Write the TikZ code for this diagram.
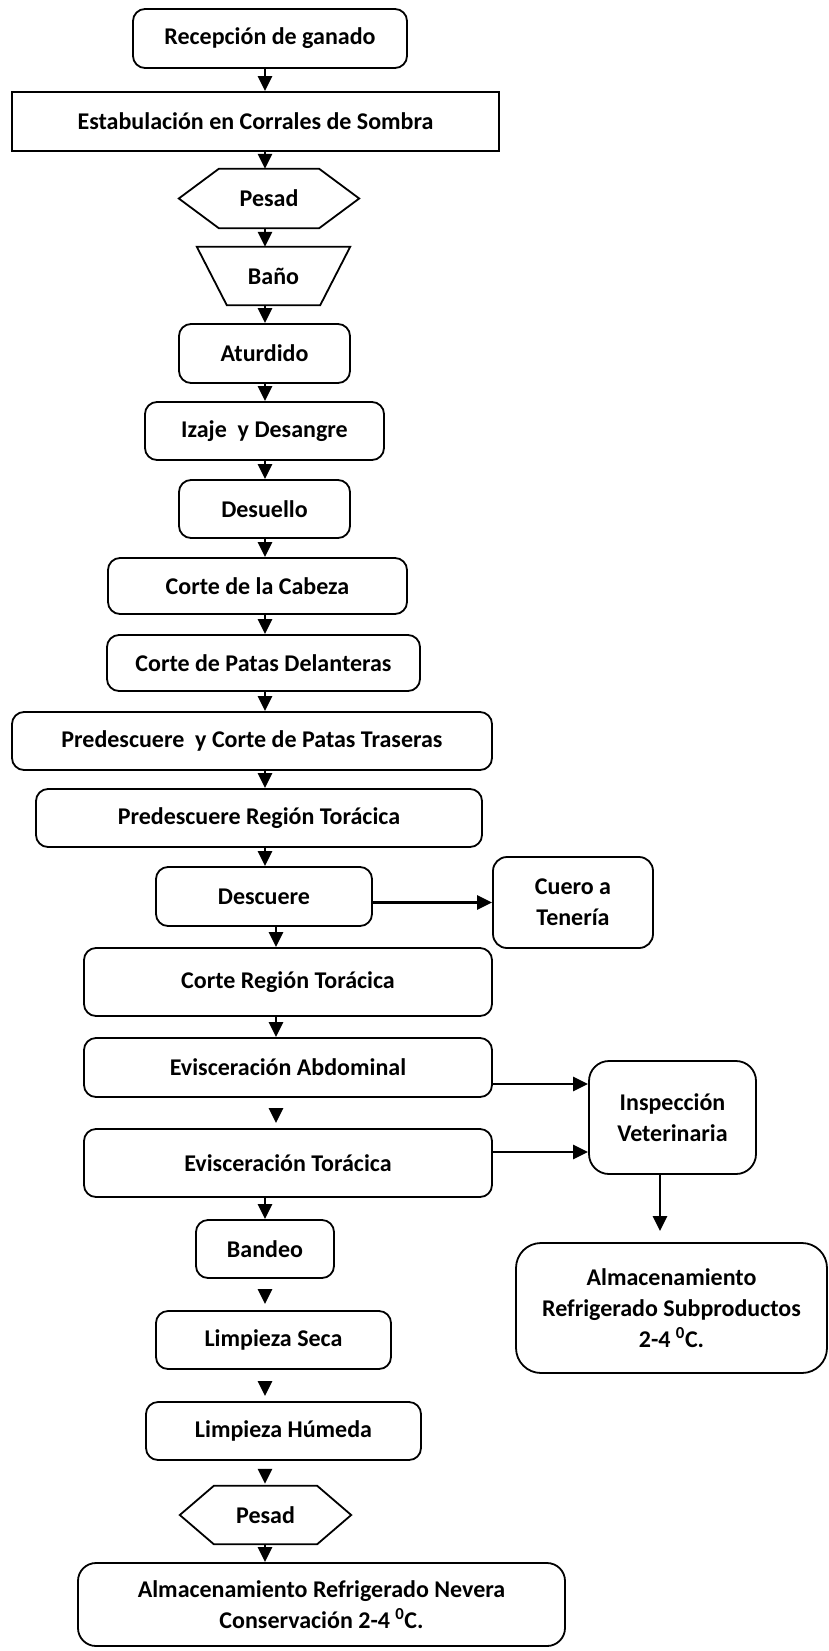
\documentclass[tikz,border=0pt]{standalone}
\usepackage{fontspec}
\setmainfont{Carlito}
\usetikzlibrary{arrows.meta}

\begin{document}
\begin{tikzpicture}[x=1pt,y=-1pt,
  texto/.style={inner sep=0pt,align=center,font=\fontsize{24}{31}\selectfont\bfseries},
  caja/.style={texto,draw,line width=1.8pt,rounded corners=12pt},
  tam/.style 2 args={minimum width=#1pt,minimum height=#2pt},
  borde/.style={line width=1.8pt,line join=miter},
  flecha/.style={line width=2.8pt,-{Triangle[width=14pt,length=15pt]}},
  hueco/.style 2 args={flecha,shorten <=#1pt,shorten >=#2pt}]
  \useasboundingbox (0,0) rectangle (828,1651);
  \coordinate (ejA) at (265,0);
  \coordinate (ejB) at (276,0);

  % linea principal
  \node[caja,tam={274}{59}] (recep) at (270,38.5) {Recepción de ganado};
  \node[caja,tam={487}{59},rounded corners=0pt] (estab) at (255.5,121.5) {Estabulación en Corrales de Sombra};
  \node[texto,tam={180}{59}] (pesaA) at (269,198.5) {Pesad};
  \draw[borde] (pesaA.west) -- ([xshift=40pt]pesaA.north west) -- ([xshift=-40pt]pesaA.north east)
    -- (pesaA.east) -- ([xshift=-40pt]pesaA.south east) -- ([xshift=40pt]pesaA.south west) -- cycle;
  \node[texto,tam={153}{58}] (bano) at (273.5,276) {Baño};
  \draw[borde] (bano.north west) -- (bano.north east) -- ([xshift=-30pt]bano.south east)
    -- ([xshift=30pt]bano.south west) -- cycle;
  \node[caja,tam={171}{59}] (atur) at (264.5,353.5) {Aturdido};
  \node[caja,tam={239}{58}] (izaje) at (264.5,431) {Izaje~ y Desangre};
  \node[caja,tam={171}{58}] (desu) at (264.5,509) {Desuello};
  \node[caja,tam={299}{56}] (cabeza) at (257.5,586) {Corte de la Cabeza};
  \node[caja,tam={313}{56}] (delant) at (263.5,663) {Corte de Patas Delanteras};
  \node[caja,tam={480}{58}] (trase) at (252,741) {Predescuere~ y Corte de Patas Traseras};
  \node[caja,tam={446}{58}] (predtor) at (259,818) {Predescuere Región Torácica};
  \node[caja,tam={216}{59}] (desc) at (264,896.5) {Descuere};
  \node[caja,tam={408}{68}] (corter) at (288,982) {Corte Región Torácica};
  \node[caja,tam={408}{59}] (abdom) at (288,1067.5) {Evisceración Abdominal};
  \node[caja,tam={408}{68}] (torac) at (288,1163) {Evisceración Torácica};
  \node[caja,tam={138}{58}] (bandeo) at (265,1249) {Bandeo};
  \node[caja,tam={235}{58}] (seca) at (273.5,1340) {Limpieza Seca};
  \node[caja,tam={275}{58}] (humeda) at (283.5,1431) {Limpieza Húmeda};
  \node[texto,tam={171}{58}] (pesaB) at (265.5,1515) {Pesad};
  \draw[borde] (pesaB.west) -- ([xshift=34pt]pesaB.north west) -- ([xshift=-34pt]pesaB.north east)
    -- (pesaB.east) -- ([xshift=-34pt]pesaB.south east) -- ([xshift=34pt]pesaB.south west) -- cycle;
  \node[caja,tam={487}{83},rounded corners=18pt] (nevera) at (321.5,1604.5)
    {Almacenamiento Refrigerado Nevera\\Conservación 2-4 \textsuperscript{0}C.};

  % salidas laterales
  \node[caja,tam={160}{91},rounded corners=14pt] (cuero) at (573,902.5) {Cuero a\\Tenería};
  \node[caja,tam={167}{113},rounded corners=20pt] (insp) at (672.5,1117.5) {Inspección\\Veterinaria};
  \node[caja,tam={311}{130},rounded corners=25pt] (subprod) at (671.5,1308)
    {Almacenamiento\\Refrigerado Subproductos\\2-4 \textsuperscript{0}C.};

  % flechas
  \foreach \a/\b in {recep/estab, estab/pesaA, pesaA/bano, bano/atur, atur/izaje, izaje/desu,
      desu/cabeza, cabeza/delant, delant/trase, trase/predtor, predtor/desc, torac/bandeo, pesaB/nevera}
    \draw[flecha] (\a.south -| ejA) -- (\b.north -| ejA);
  \foreach \a/\b in {desc/corter, corter/abdom}
    \draw[flecha] (\a.south -| ejB) -- (\b.north -| ejB);
  \draw[hueco={11}{5}] (abdom.south -| ejB) -- (torac.north -| ejB);
  \draw[hueco={12}{6}] (bandeo.south -| ejA) -- (seca.north -| ejA);
  \draw[hueco={13}{5}] (seca.south -| ejA) -- (humeda.north -| ejA);
  \draw[hueco={8}{2}] (humeda.south -| ejA) -- (pesaB.north -| ejA);
  \draw[flecha] (desc.east |- cuero.west) -- (cuero.west);
  \draw[flecha] ([yshift=-16.5pt]abdom.east) -- ([yshift=-16.5pt]abdom.east -| insp.west);
  \draw[flecha] ([yshift=11pt]torac.east) -- ([yshift=11pt]torac.east -| insp.west);
  \draw[hueco={0}{11}] ([xshift=-12.5pt]insp.south) -- ([xshift=-12.5pt]insp.south |- subprod.north);
\end{tikzpicture}
\end{document}
